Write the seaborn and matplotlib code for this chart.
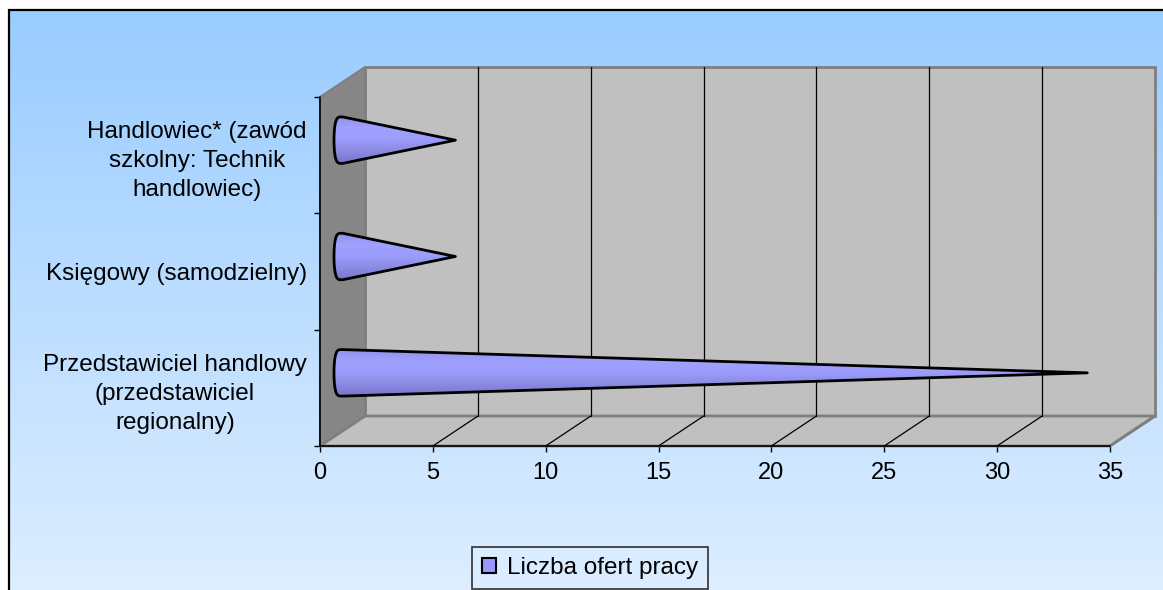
import numpy as np
import pandas as pd
import matplotlib
matplotlib.use("Agg")
import matplotlib.pyplot as plt
from matplotlib.patches import Polygon, Patch
from matplotlib.colors import LinearSegmentedColormap, to_rgb
import seaborn as sns

# ---- data -------------------------------------------------------------
categories = [
    "Handlowiec* (zawód szkolny: Technik handlowiec)",
    "Księgowy (samodzielny)",
    "Przedstawiciel handlowy (przedstawiciel regionalny)",
]
tick_labels = [
    "Handlowiec* (zawód\nszkolny: Technik\nhandlowiec)",
    "Księgowy (samodzielny)",
    "Przedstawiciel handlowy\n(przedstawiciel\nregionalny)",
]
values = [5, 5, 33]
series_name = "Liczba ofert pracy"
x_ticks = [0, 5, 10, 15, 20, 25, 30, 35]

# ---- style ------------------------------------------------------------
sns.set_theme(style="white")
plt.rcParams["font.family"] = ["Liberation Sans", "DejaVu Sans"]

W, H = 1163, 590
fig = plt.figure(figsize=(W / 100, H / 100), dpi=100)
fig.patch.set_facecolor("white")

# gradient chart background with a thin frame
bg = fig.add_axes([0, 0, 1, 1], zorder=-5)
bg.set_xlim(0, W)
bg.set_ylim(H, 0)
bg.axis("off")
top_c = np.array(to_rgb("#99CCFF"))
bot_c = np.array(to_rgb("#DDEEFF"))
t = np.linspace(0, 1, 256)[:, None, None]
grad = top_c[None, None, :] * (1 - t) + bot_c[None, None, :] * t
bg.imshow(grad, extent=(8, W, H, 9), aspect="auto", interpolation="bilinear")
bg.plot([8, W], [9.5, 9.5], color="black", lw=1.6, solid_capstyle="butt")
bg.plot([8.5, 8.5], [9, H], color="black", lw=1.6, solid_capstyle="butt")

# ---- plot area (front plane in data units) ----------------------------
x_max = x_ticks[-1]
depth_x = 2.0            # depth offset along the value axis
depth_y = 30 / 116.33    # depth offset in category units
ax = fig.add_axes([320 / W, (H - 446) / H, (1155 - 320) / W, (446 - 67) / H])
ax.patch.set_visible(False)

df = pd.DataFrame({"category": categories, "value": values})
sns.barplot(data=df, x="value", y="category", orient="h", width=0.4,
            color="#9999FF", saturation=1, ax=ax)
bars = list(ax.patches)

n = len(categories)
y_top, y_bot = -0.5, n - 0.5
for s in ax.spines.values():
    s.set_visible(False)

wall_c, side_c, edge_c = "#C0C0C0", "#868686", "#7F7F7F"
# back wall
ax.add_patch(Polygon([(depth_x, y_top - depth_y), (x_max + depth_x, y_top - depth_y),
                      (x_max + depth_x, y_bot - depth_y), (depth_x, y_bot - depth_y)],
                     closed=True, facecolor=wall_c, edgecolor=edge_c, lw=2,
                     zorder=0.5, clip_on=False))
# side wall
ax.add_patch(Polygon([(0, y_top), (depth_x, y_top - depth_y),
                      (depth_x, y_bot - depth_y), (0, y_bot)],
                     closed=True, facecolor=side_c, edgecolor=edge_c, lw=1.5,
                     zorder=0.6, clip_on=False))
# floor
ax.add_patch(Polygon([(0, y_bot), (depth_x, y_bot - depth_y),
                      (x_max + depth_x, y_bot - depth_y), (x_max, y_bot)],
                     closed=True, facecolor=wall_c, edgecolor=edge_c, lw=2,
                     zorder=0.6, clip_on=False))
# gridlines on the back wall and floor
for xv in x_ticks[1:-1]:
    ax.plot([xv + depth_x, xv + depth_x], [y_top - depth_y, y_bot - depth_y],
            color="black", lw=0.9, zorder=0.7, clip_on=False)
    ax.plot([xv, xv + depth_x], [y_bot, y_bot - depth_y],
            color="black", lw=0.9, zorder=0.7, clip_on=False)
ax.plot([x_max, x_max + depth_x], [y_bot, y_bot - depth_y], color=edge_c,
        lw=2, zorder=0.7, clip_on=False)
# front axis lines
ax.plot([0, 0], [y_top, y_bot], color="black", lw=1.2, zorder=5, clip_on=False)
ax.plot([0, x_max], [y_bot, y_bot], color="black", lw=1.2, zorder=5, clip_on=False)

# ---- cones built from the bar geometry -------------------------------
cone_cmap = LinearSegmentedColormap.from_list(
    "cone", ["#9090EC", "#A0A0FF", "#9C9CFC", "#8A8AE2", "#7676CC"])
shade = np.linspace(0, 1, 128)[:, None]
for p in bars:
    x0 = p.get_x() + depth_x / 2
    length = p.get_width()
    hh = p.get_height() / 2
    yc = p.get_y() + hh - depth_y / 2
    p.set_visible(False)
    rx = 0.38
    tt = np.linspace(-np.pi / 2, np.pi / 2, 40)
    arc_x = x0 - rx * np.abs(np.cos(tt)) ** 0.45
    arc_y = yc + hh * np.sin(tt)
    pts = [(x0 + length, yc)] + list(zip(arc_x, arc_y))
    cone = Polygon(pts, closed=True, facecolor="none", edgecolor="black",
                   lw=2, joinstyle="round", zorder=3, clip_on=False)
    ax.add_patch(cone)
    im = ax.imshow(shade, cmap=cone_cmap, aspect="auto", zorder=2.9,
                   extent=(x0 - rx, x0 + length, yc + hh, yc - hh),
                   interpolation="bilinear")
    im.set_clip_path(cone)

ax.set_xlim(0, x_max + depth_x)
ax.set_ylim(y_bot, y_top - depth_y)
ax.set_aspect("auto")

# ---- axes ticks and labels --------------------------------------------
ax.set_xticks(x_ticks)
ax.set_xticklabels([str(v) for v in x_ticks])
ax.tick_params(axis="x", bottom=True, direction="out", length=4.3, width=1,
               color="black", pad=7, labelsize=17, labelcolor="black")
ax.set_yticks(range(n))
ax.set_yticklabels(tick_labels)
ax.set_yticks(np.arange(n + 1) - 0.5, minor=True)
ax.tick_params(axis="y", which="major", left=True, length=0, pad=9.4,
               labelsize=17.5, labelcolor="black")
ax.tick_params(axis="y", which="minor", left=True, direction="out",
               length=4.3, width=1, color="black")
for lab in ax.get_yticklabels():
    lab.set_multialignment("center")
    lab.set_linespacing(1.42)
ax.set_xlabel("")
ax.set_ylabel("")

# ---- legend -----------------------------------------------------------
handle = Patch(facecolor="#9999FF", edgecolor="black", linewidth=1.5,
               label=series_name)
leg = fig.legend(handles=[handle], loc="upper left",
                 bbox_to_anchor=(472 / W, 1 - 547 / H), borderaxespad=0,
                 fontsize=17.5, frameon=True, fancybox=False, framealpha=1,
                 facecolor="#DAECFF", edgecolor="#303030", labelcolor="black",
                 handlelength=0.55, handleheight=0.55, handletextpad=0.45,
                 borderpad=0.42)
leg.get_frame().set_linewidth(1.2)

fig.savefig("out.png", dpi=100)
